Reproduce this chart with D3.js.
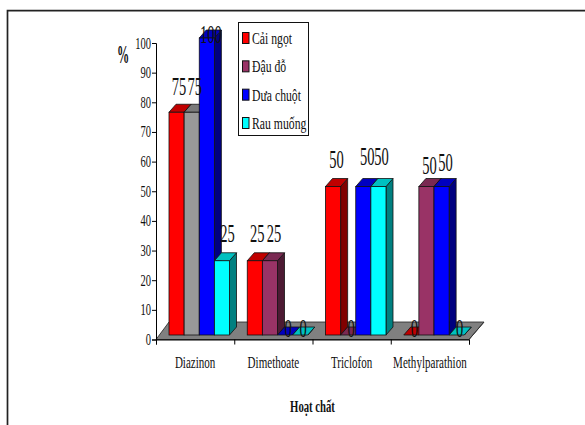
<!DOCTYPE html>
<html><head><meta charset="utf-8">
<script src="https://cdn.jsdelivr.net/npm/d3@7/dist/d3.min.js"></script>
<style>html,body{margin:0;padding:0;background:#fff}svg{display:block}text{font-family:"Liberation Serif",serif;fill:#111}</style>
</head><body><script>
const categories = ["Diazinon","Dimethoate","Triclofon","Methylparathion"];
const seriesNames = ["Cải ngọt","Đậu đỗ","Dưa chuột","Rau muống"];
const caiNgot = [75,25,50,0];
const dauDo = [75,25,0,50];
const duaChuot = [100,0,50,50];
const rauMuong = [25,0,50,0];
const yTicks = [0,10,20,30,40,50,60,70,80,90,100];
const allSeries = [caiNgot,dauDo,duaChuot,rauMuong];
const front = ["#ff0000","#993366","#0000ff","#00ffff"];
const firstGroupFront = ["#ff0000","#999999","#0000ff","#00ffff"];
const topC = ["#c00000","#7a2952","#0000c0","#00c0c0"];
const firstGroupTop = ["#c00000","#7a7a7a","#0000c0","#00c0c0"];
const sideC = ["#800000","#4d1a33","#000080","#008080"];
const firstGroupSide = ["#800000","#4d4d4d","#000080","#008080"];

const svg = d3.select("body").append("svg").attr("width",585).attr("height",425);
const squeeze = (sel,x,y,k,anchor) => sel.attr("transform",`translate(${x},${y}) scale(${k},1)`).attr("text-anchor",anchor||"middle");

svg.append("path").attr("d","M7.5,430V10.7H585").attr("fill","none").attr("stroke","#222").attr("stroke-width",1.7);

const x0 = d3.scaleBand().domain(categories).range([156,469]);
const xBar = d3.scaleBand().domain([0,1,2,3]).range([0,60.5]);
const y = d3.scaleLinear().domain([0,100]).range([335,38]);
const yAxisScale = d3.scaleLinear().domain([0,100]).range([339.5,43]);
const ddx = 7, ddy = 8;

// floor
svg.append("path").attr("d","M156,339.5L169,322H484L469,339.5Z").attr("fill","#808080").attr("stroke","#222").attr("stroke-width",.8);
svg.append("path").attr("d","M156,339.5H469L484,322").attr("fill","none").attr("stroke","#333").attr("stroke-width",1);

// axes
const yAxis = d3.axisLeft(yAxisScale).tickValues(yTicks).tickSize(4).tickFormat(d3.format("d"));
const yg = svg.append("g").attr("transform","translate(156,0)").call(yAxis);
yg.select(".domain").attr("stroke","#000");
yg.selectAll("text").remove();
yTicks.forEach(t=>squeeze(svg.append("text").text(t).attr("font-size",17),151,yAxisScale(t)+5.5,.62,"end"));
const xAxis = d3.axisBottom(d3.scaleLinear().domain([0,4]).range([156,469])).ticks(4).tickSize(5).tickFormat("");
svg.append("g").attr("transform","translate(0,339.5)").call(xAxis);
categories.forEach(c=>squeeze(svg.append("text").text(c).attr("font-size",17),x0(c)+x0.bandwidth()/2,368,.65));

// bars
categories.forEach((c,ci)=>{
  const cx = x0(c)+13;
  allSeries.forEach((s,si)=>{
    const v = s[ci], bx = cx+xBar(si), w = xBar.bandwidth(), ty = y(v), by = y(0);
    const f = ci===0?firstGroupFront[si]:front[si], tc = ci===0?firstGroupTop[si]:topC[si], sc = ci===0?firstGroupSide[si]:sideC[si];
    const g = svg.append("g").attr("stroke","#111").attr("stroke-width",.8);
    g.append("path").attr("d",`M${bx+w},${ty}L${bx+w+ddx},${ty-ddy}V${by-ddy}L${bx+w},${by}Z`).attr("fill",sc);
    g.append("path").attr("d",`M${bx},${ty}L${bx+ddx},${ty-ddy}H${bx+w+ddx}L${bx+w},${ty}Z`).attr("fill",tc);
    g.append("rect").attr("x",bx).attr("y",ty).attr("width",w).attr("height",by-ty).attr("fill",f);
  });
});
// value labels: nudges as seen in the reference, per category then series
const labelLift = [[17,17,-5,19],[19,19,-2,-2],[19,-2,22,22],[-2,13,16,-2]];
const labelShift = [[2.5,3,4,5.5],[2.5,4,3,3],[3.5,3,4,3],[3,3,4,3]];
categories.forEach((c,ci)=>{
  const cx = x0(c)+13;
  allSeries.forEach((s,si)=>{
    squeeze(svg.append("text").text(s[ci]).attr("font-size",25),
      cx+xBar(si)+xBar.bandwidth()/2+labelShift[ci][si], y(s[ci])-labelLift[ci][si], .58);
  });
});

// legend
svg.append("rect").attr("x",238.5).attr("y",22.5).attr("width",70).attr("height",113).attr("fill","#fff").attr("stroke","#111");
const ly = d3.scalePoint().domain(seriesNames).range([38,123]);
seriesNames.forEach((n,i)=>{
  svg.append("rect").attr("x",242.5).attr("y",ly(n)-5.5).attr("width",6.5).attr("height",11).attr("fill",front[i]).attr("stroke","#111");
  squeeze(svg.append("text").text(n).attr("font-size",17),252,ly(n)+6,.69,"start");
});
squeeze(svg.append("text").text("%").attr("font-size",26).attr("font-weight","bold"),123,63,.47);
squeeze(svg.append("text").text("Hoạt chất").attr("font-size",17).attr("font-weight","bold"),312.5,412,.63);
</script></body></html>
